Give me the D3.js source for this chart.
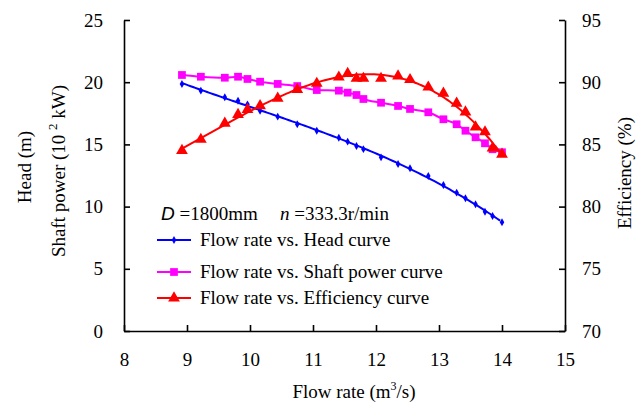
<!DOCTYPE html>
<html>
<head>
<meta charset="utf-8">
<script src="https://cdn.jsdelivr.net/npm/d3@7/dist/d3.min.js"></script>
<style>
  body { margin: 0; background: #fff; }
  svg text { font-family: "Liberation Serif", "Times New Roman", serif; fill: #000; }
</style>
</head>
<body>
<div id="chart"></div>
<script>
// flow rate (m3/s) shared by the three series
var flow = [8.92, 9.22, 9.60, 9.81, 9.96, 10.16, 10.44, 10.75, 11.06, 11.41, 11.55, 11.69,
            11.80, 12.08, 12.35, 12.54, 12.83, 13.07, 13.28, 13.42, 13.58, 13.73, 13.85, 14.00];
var head = [19.86, 19.32, 18.79, 18.51, 18.22, 17.71, 17.23, 16.62, 16.10, 15.54, 15.22, 14.87,
            14.62, 13.96, 13.42, 13.08, 12.46, 11.74, 11.12, 10.67, 10.19, 9.59, 9.24, 8.74];
var power = [20.58, 20.44, 20.36, 20.44, 20.26, 20.04, 19.86, 19.69, 19.37, 19.32, 19.16, 18.97,
             18.65, 18.35, 18.09, 17.85, 17.58, 17.02, 16.62, 16.10, 15.57, 15.09, 14.61, 14.37];
var efficiency = [84.5, 85.4, 86.7, 87.4, 87.8, 88.1, 88.7, 89.4, 89.9, 90.4, 90.7, 90.3,
                  90.3, 90.3, 90.5, 90.2, 89.6, 89.1, 88.3, 87.6, 86.4, 86.0, 84.7, 84.2];
var xTicks = [8, 9, 10, 11, 12, 13, 14, 15];
var leftTicks = [0, 5, 10, 15, 20, 25];
var rightTicks = [70, 75, 80, 85, 90, 95];
var legendLabels = ["Flow rate vs. Head curve", "Flow rate vs. Shaft power curve", "Flow rate vs. Efficiency curve"];

var W = 643, H = 407, FS = "19px";
var svg = d3.select("#chart").append("svg").attr("width", W).attr("height", H);

var x = d3.scaleLinear().domain([8, 15]).range([124, 565]);
var yL = d3.scaleLinear().domain([0, 25]).range([331, 20]);
var yR = d3.scaleLinear().domain([70, 95]).range([331, 20]);

// least squares polynomial trendline (like a spreadsheet trendline)
function polyfit(xs, ys, order) {
  var n = order + 1, A = [], b = [];
  for (var i = 0; i < n; i++) {
    A.push([]); b.push(d3.sum(xs, function (v, k) { return Math.pow(v, i) * ys[k]; }));
    for (var j = 0; j < n; j++) A[i].push(d3.sum(xs, function (v) { return Math.pow(v, i + j); }));
  }
  for (var c = 0; c < n; c++) {
    for (var r = c + 1; r < n; r++) {
      var f = A[r][c] / A[c][c];
      for (var k = c; k < n; k++) A[r][k] -= f * A[c][k];
      b[r] -= f * b[c];
    }
  }
  var coef = new Array(n);
  for (var r2 = n - 1; r2 >= 0; r2--) {
    var s = b[r2];
    for (var k2 = r2 + 1; k2 < n; k2++) s -= A[r2][k2] * coef[k2];
    coef[r2] = s / A[r2][r2];
  }
  return function (v) { return d3.sum(coef, function (cf, p) { return cf * Math.pow(v, p); }); };
}

// axes
var xAxis = svg.append("g").attr("transform", "translate(0,331)")
  .call(d3.axisBottom(x).tickValues(xTicks).tickFormat(d3.format("d")).tickSizeInner(-6).tickSizeOuter(0).tickPadding(22));
var lAxis = svg.append("g").attr("transform", "translate(124,0)")
  .call(d3.axisLeft(yL).tickValues(leftTicks).tickSizeInner(-6).tickSizeOuter(0).tickPadding(21));
var rAxis = svg.append("g").attr("transform", "translate(565,0)")
  .call(d3.axisRight(yR).tickValues(rightTicks).tickSizeInner(-6).tickSizeOuter(0).tickPadding(17));
[xAxis, lAxis, rAxis].forEach(function (a) {
  a.attr("font-family", null).attr("font-size", null);
  a.selectAll("path, line").attr("stroke", "#000").attr("stroke-width", 1.6);
  a.selectAll("text").style("font-size", FS);
});

// series
var series = [
  { vals: head, scale: yL, color: "#0000ff", fit: 3, sym: d3.symbolDiamond, size: 18 },
  { vals: power, scale: yL, color: "#ff00ff", fit: 0, sym: d3.symbolSquare, size: 60 },
  { vals: efficiency, scale: yR, color: "#ff0000", fit: 3, sym: d3.symbolTriangle, size: 60 }
];
series.forEach(function (s) {
  var pts = flow.map(function (f, i) { return [f, s.vals[i]]; });
  var linePts = pts, curve = d3.curveMonotoneX;
  if (s.fit) {
    var fn = polyfit(flow, s.vals, s.fit);
    linePts = d3.range(flow[0], flow[flow.length - 1] + 0.001, 0.05).map(function (v) { return [v, fn(v)]; });
  }
  var line = d3.line().x(function (d) { return x(d[0]); }).y(function (d) { return s.scale(d[1]); }).curve(curve);
  svg.append("path").datum(linePts).attr("d", line)
    .attr("fill", "none").attr("stroke", s.color).attr("stroke-width", 2);
  svg.append("g").selectAll("path").data(pts).enter().append("path")
    .attr("d", d3.symbol().type(s.sym).size(s.size))
    .attr("transform", function (d) { return "translate(" + x(d[0]) + "," + s.scale(d[1]) + ")"; })
    .attr("fill", s.color);
});

// axis titles
svg.append("text").attr("transform", "translate(31,167) rotate(-90)")
  .attr("text-anchor", "middle").style("font-size", FS).text("Head (m)");
var sp = svg.append("text").attr("transform", "translate(65,171) rotate(-90)")
  .attr("text-anchor", "middle").style("font-size", FS);
sp.append("tspan").text("Shaft power (10 ");
sp.append("tspan").attr("dy", -8).style("font-size", "13px").text("2");
sp.append("tspan").attr("dy", 8).text(" kW)");
svg.append("text").attr("transform", "translate(631,173) rotate(-90)")
  .attr("text-anchor", "middle").style("font-size", FS).text("Efficiency (%)");
var xt = svg.append("text").attr("x", 354).attr("y", 398).attr("text-anchor", "middle").style("font-size", FS);
xt.append("tspan").text("Flow rate (m");
xt.append("tspan").attr("dy", -8).style("font-size", "12px").text("3");
xt.append("tspan").attr("dy", 8).text("/s)");

// legend
var info = svg.append("text").attr("x", 161).attr("y", 220).style("font-size", FS);
info.append("tspan").style("font-style", "italic").style("font-family", "Liberation Sans, Arial, sans-serif").text("D");
info.append("tspan").text(" =1800mm");
info.append("tspan").attr("x", 280).style("font-style", "italic").text("n");
info.append("tspan").text(" =333.3r/min");

var legY = [240, 272, 298];
series.forEach(function (s, i) {
  var g = svg.append("g").attr("transform", "translate(0," + legY[i] + ")");
  g.append("line").attr("x1", 157).attr("x2", 191).attr("stroke", s.color).attr("stroke-width", 2);
  g.append("path").attr("d", d3.symbol().type(s.sym).size(s.size)).attr("transform", "translate(174,0)").attr("fill", s.color);
  g.append("text").attr("x", 200).attr("y", 6).style("font-size", FS).text(legendLabels[i]);
});
</script>
</body>
</html>
